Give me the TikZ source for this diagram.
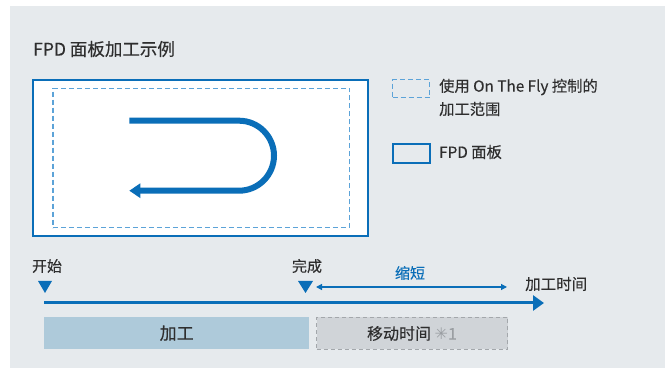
\documentclass[tikz,border=0pt]{standalone}
\usepackage{fontspec}
\setmainfont{Noto Sans CJK SC}[FakeBold=0.2]
\newfontfamily\symfont{DejaVu Sans}
\usetikzlibrary{arrows.meta}
\definecolor{bg}{HTML}{E6EAED}
\definecolor{fpdblue}{HTML}{0A6EB8}
\definecolor{dashblue}{HTML}{5CA3D8}
\definecolor{procbar}{HTML}{AECADA}
\definecolor{movebar}{HTML}{D0D4D8}
\definecolor{moveedge}{HTML}{A3A7AB}
\definecolor{txt}{HTML}{2E2E2E}
\definecolor{note}{HTML}{9A9EA2}
\tikzset{
  lbl/.style={text=txt, inner sep=0pt},
  panelbox/.style={draw=fpdblue, line width=2pt, fill=white, inner sep=0pt, anchor=north west},
  rangebox/.style={draw=dashblue, line width=1.2pt, dash pattern=on 5pt off 3pt, inner sep=0pt, anchor=north west},
  marker/.style={fill=fpdblue},
  barbox/.style={inner sep=0pt, anchor=north west, minimum height=32pt, text=txt, font=\fontsize{17}{20}\selectfont},
}
\begin{document}
\begin{tikzpicture}[x=1pt,y=-1pt]
\useasboundingbox (0,0) rectangle (665,371);
\fill[bg] (10,6) rectangle (665,368);
% title
\node[lbl, anchor=west, font=\fontsize{17.5}{20}\selectfont] (title) at (33,49) {FPD 面板加工示例};
% panel
\node[panelbox, minimum width=335pt, minimum height=156pt] (panel) at (31.7,79.3) {};
\node[rangebox, minimum width=296.7pt, minimum height=139.3pt] (range) at (52.3,87.7) {};
% U-turn path
\coordinate (ustart) at (129.3,120.7);
\coordinate (uend) at (129.3,190.7);
\draw[fpdblue, line width=6pt, -{Triangle[length=11pt,width=14pt]}]
  (ustart) -- (239,120.7) arc(-90:90:35) -- (uend);
% legend
\node[rangebox, minimum width=37pt, minimum height=18pt] (legdash) at (392,79) {};
\node[lbl, anchor=west, font=\fontsize{15.3}{18}\selectfont] (legdashtxt1) at (439,87) {使用 On The Fly 控制的};
\node[lbl, anchor=west, font=\fontsize{15.3}{18}\selectfont] (legdashtxt2) at (439,109) {加工范围};
\node[draw=fpdblue, line width=2pt, inner sep=0pt, anchor=north west, minimum width=37pt, minimum height=19pt] (legpanel) at (392,143) {};
\node[lbl, anchor=west, font=\fontsize{15.3}{18}\selectfont] (legpaneltxt) at (439,152) {FPD 面板};
% timeline
\node[lbl, font=\fontsize{15}{18}\selectfont] (start) at (47,266) {开始};
\node[lbl, font=\fontsize{15}{18}\selectfont] (finish) at (307,266) {完成};
\fill[marker] (38,281) -- (52,281) -- (45,293) -- cycle;
\fill[marker] (298,281) -- (313,281) -- (305.5,293) -- cycle;
\coordinate (axisstart) at (44,303);
\coordinate (axisend) at (544,303);
\draw[fpdblue, line width=3pt, -{Triangle[length=11pt,width=15pt]}] (axisstart) -- (axisend);
\node[lbl, anchor=west, font=\fontsize{15.5}{18}\selectfont] (axislabel) at (525,284) {加工时间};
\coordinate (sl) at (316,287);
\coordinate (sr) at (507,287);
\draw[fpdblue, line width=1.2pt, {Triangle[length=6pt,width=6pt]}-{Triangle[length=6pt,width=6pt]}] (sl) -- (sr);
\node[lbl, text=fpdblue, font=\fontsize{15}{18}\selectfont] (shorten) at (410,273) {缩短};
% bars
\node[barbox, fill=procbar, minimum width=265pt] (proc) at (44,317) {加工};
\node[barbox, fill=movebar, draw=moveedge, line width=1pt, dash pattern=on 4pt off 3pt, minimum width=191pt, font=\fontsize{16}{19}\selectfont] (move) at (316,317) {移动时间 \textcolor{note}{{\symfont ✳}1}};
\end{tikzpicture}
\end{document}
